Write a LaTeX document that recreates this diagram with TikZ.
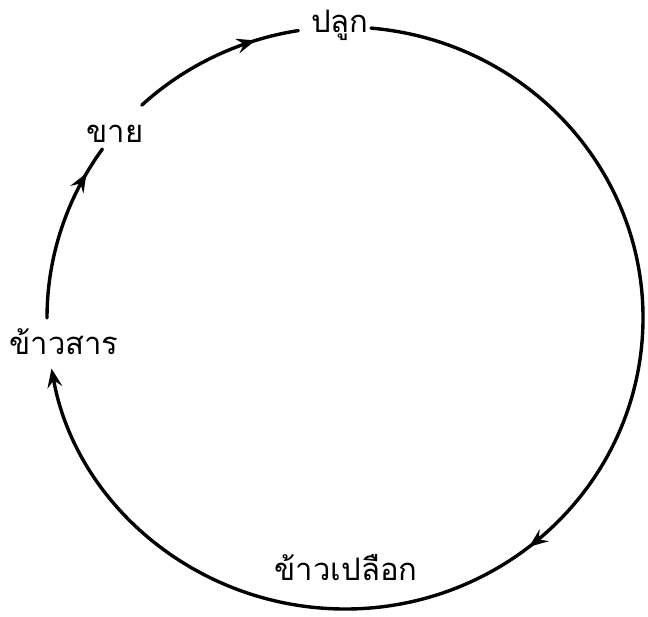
\documentclass[tikz,border=0pt]{standalone}
\usepackage{fontspec}
\newfontfamily\thaifont[Script=Thai]{Loma}
\usetikzlibrary{arrows.meta,decorations.markings,calc}
\tikzset{cyctip/.tip={Stealth[length=19pt,width=15pt,inset=7pt]}}
\begin{document}
\begin{tikzpicture}[x=1pt,y=1pt,
  lbl/.style={font=\thaifont\fontsize{31}{35}\selectfont, anchor=base, inner sep=0pt},
  cyc/.style={line width=3.4pt, line cap=round},
  midarrow/.style={postaction={decorate}, decoration={markings, mark=at position #1 with {\arrow{cyctip}}}}
]
\useasboundingbox (0,0) rectangle (648,616);
% ellipse centre (345,298), radii 298 x 291
\coordinate (C) at (345,298);
\node[lbl] (plook) at (340,583) {ปลูก};
\node[lbl] (khai) at (115,473) {ขาย};
\node[lbl] (san) at (64,261) {ข้าวสาร};
\node[lbl] (pluak) at (346,36) {ข้าวเปลือก};
\coordinate (a1) at ($(C)+(133:298 and 291)$);
\coordinate (b1) at ($(C)+(85:298 and 291)$);
\coordinate (c1) at ($(C)+(180:298 and 291)$);
% khai -> plook
\draw[cyc, midarrow=0.75] (a1) arc[start angle=133, end angle=99, x radius=298pt, y radius=291pt];
% plook -> pluak -> san
\draw[cyc, midarrow=0.535, -{cyctip}] (b1) arc[start angle=85, end angle=-170, x radius=298pt, y radius=291pt];
% san -> khai
\draw[cyc, midarrow=0.84] (c1) arc[start angle=180, end angle=144.5, x radius=298pt, y radius=291pt];
\end{tikzpicture}
\end{document}
